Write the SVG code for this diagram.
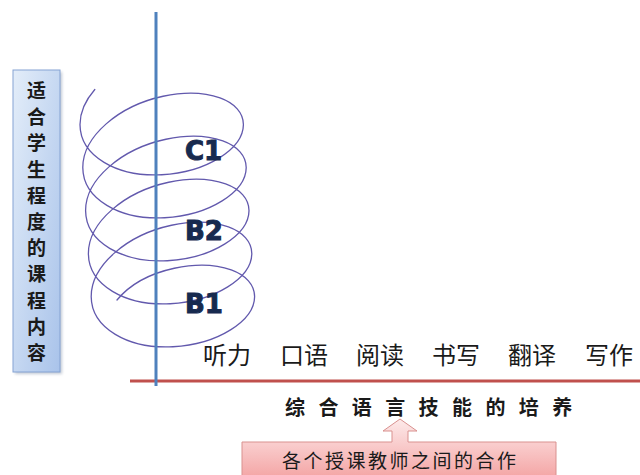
<svg xmlns="http://www.w3.org/2000/svg" width="640" height="475" viewBox="0 0 640 475">
<defs>
<linearGradient id="gBlue" x1="0" y1="0" x2="1" y2="1">
<stop offset="0" stop-color="#e3edf9"/>
<stop offset="1" stop-color="#a9c3ea"/>
</linearGradient>
<linearGradient id="gPink" x1="0" y1="0" x2="0" y2="1">
<stop offset="0" stop-color="#fdeaea"/>
<stop offset="1" stop-color="#f4a7a7"/>
</linearGradient>
<filter id="sh" x="-20%" y="-5%" width="140%" height="110%">
<feGaussianBlur stdDeviation="1.5"/>
</filter>
</defs>
<style>
.cjk{font-family:"Noto Sans CJK SC","Noto Sans CJK JP",sans-serif;fill:#1a1a1a}
.lvl{font-family:"DejaVu Sans",sans-serif;font-weight:bold;font-size:26px;fill:#172a4f;stroke:#172a4f;stroke-width:1}
.spiral{fill:none;stroke:#6259ad;stroke-width:1.3;stroke-linecap:round}
</style>
<rect width="640" height="475" fill="#ffffff"/>

<g id="left-box">
<rect x="15" y="72" width="47" height="302" fill="#9aa6b8" opacity="0.6" filter="url(#sh)"/>
<rect x="13" y="70" width="47" height="302" fill="url(#gBlue)" stroke="#85a3d3" stroke-width="1"/>
<g class="cjk" font-size="19" font-weight="bold" text-anchor="middle">
<text x="36.5" y="98">适</text>
<text x="36.5" y="124.2">合</text>
<text x="36.5" y="150.4">学</text>
<text x="36.5" y="176.6">生</text>
<text x="36.5" y="202.8">程</text>
<text x="36.5" y="229">度</text>
<text x="36.5" y="255.2">的</text>
<text x="36.5" y="281.4">课</text>
<text x="36.5" y="307.6">程</text>
<text x="36.5" y="333.8">内</text>
<text x="36.5" y="360">容</text>
</g>
</g>

<g id="spiral">
<path class="spiral" d="M 94.8 89.5 C 85.08 100.7, 79.9 112.9, 80 124.75 C 80.23 155.95, 116.73 177.11, 161.7 174.75 C 206.67 172.39, 243.17 148.75, 243.4 124.75 C 243.63 100.75, 207.6 86.73, 163.1 96.25 C 118.6 105.77, 82.57 136.55, 82.8 167.75 C 83.03 198.95, 119.53 220.11, 164.5 217.75 C 209.47 215.39, 245.97 191.75, 246.2 167.75 C 246.43 143.75, 210.4 129.73, 165.9 139.25 C 121.4 148.77, 85.37 179.55, 85.6 210.75 C 85.83 241.95, 122.33 263.11, 167.3 260.75 C 212.27 258.39, 248.77 234.75, 249 210.75 C 249.23 186.75, 213.2 172.73, 168.7 182.25 C 124.2 191.77, 88.17 222.55, 88.4 253.75 C 88.63 284.95, 125.13 306.11, 170.1 303.75 C 215.07 301.39, 251.57 277.75, 251.8 253.75 C 252.03 229.75, 216 215.73, 171.5 225.25 C 127 234.77, 90.97 265.55, 91.2 296.75 C 91.43 327.950, 127.93 349.11, 172.9 346.75 C 217.87 344.39, 254.37 320.75, 254.6 296.75 C 254.83 272.75, 218.8 258.73, 174.3 268.25 C 151.94 273.1, 130.6 283.6, 117 300"/>
</g>

<g id="connectors">
<line x1="130" y1="381" x2="640" y2="381" stroke="#c0504d" stroke-width="3"/>
<line x1="156" y1="12" x2="156" y2="386" stroke="#4f81bd" stroke-width="3"/>
</g>

<g id="level-C1"><text class="lvl" x="185" y="160">C1</text></g>
<g id="level-B2"><text class="lvl" x="185" y="240">B2</text></g>
<g id="level-B1"><text class="lvl" x="185" y="313">B1</text></g>

<g id="skills" class="cjk" font-size="24">
<text x="203" y="364">听力</text>
<text x="280" y="364">口语</text>
<text x="356" y="364">阅读</text>
<text x="432" y="364">书写</text>
<text x="508" y="364">翻译</text>
<text x="585" y="364">写作</text>
</g>

<g id="integrated">
<text class="cjk" x="285" y="415" font-size="20" font-weight="bold" letter-spacing="13.4">综合语言技能的培养</text>
</g>

<g id="cooperation">
<path d="M 242 442 L 392 442 L 392 431 L 383 431 L 400 419 L 417 431 L 408 431 L 408 442 L 556 442 L 556 476 L 242 476 Z" fill="url(#gPink)" stroke="#d9918f" stroke-width="1"/>
<text class="cjk" x="282" y="468" font-size="19" letter-spacing="2.5">各个授课教师之间的合作</text>
</g>
</svg>
